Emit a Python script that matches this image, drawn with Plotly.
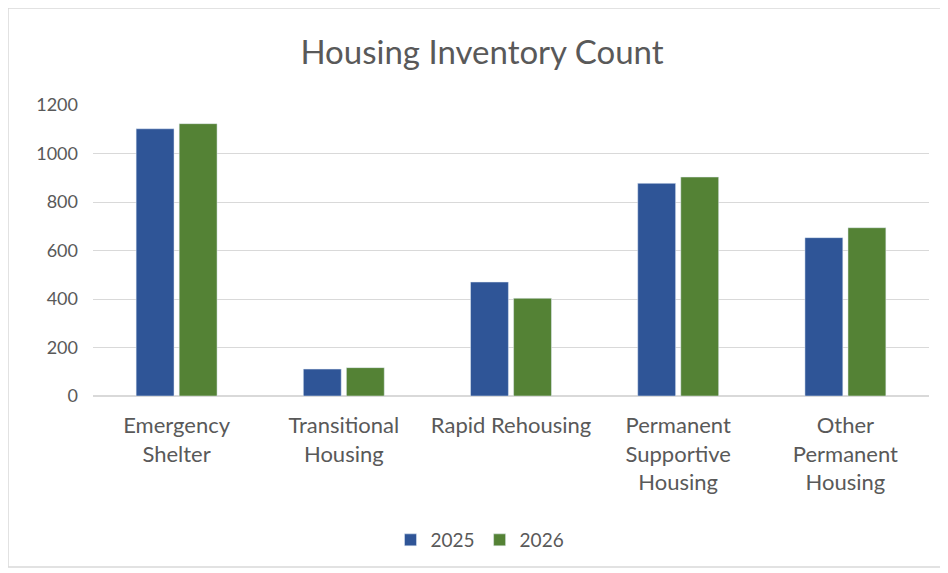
import plotly.graph_objects as go

categories = ["Emergency<br>Shelter", "Transitional<br>Housing", "Rapid Rehousing",
              "Permanent<br>Supportive<br>Housing", "Other<br>Permanent<br>Housing"]
values_2025 = [1102, 111, 470, 877, 653]
values_2026 = [1123, 117, 403, 903, 694]
y_ticks = [0, 200, 400, 600, 800, 1000, 1200]

FONT = "Lato, 'Open Sans', sans-serif"
GREY = "#595959"

W, H = 948, 573
L, R, T, B = 85, 27, 97, 185
PW, PH = W - L - R, H - T - B

fig = go.Figure()
fig.add_trace(go.Bar(name="2025", x=categories, y=values_2025, marker_color="#2F5597"))
fig.add_trace(go.Bar(name="2026", x=categories, y=values_2026, marker_color="#548235"))

fig.update_layout(
    width=W, height=H,
    margin=dict(l=L, r=R, t=T, b=B),
    paper_bgcolor="white", plot_bgcolor="white",
    title=dict(text="Housing Inventory Count", x=(482 - 8) / W, xanchor="center",
               y=1 - 44 / H, yanchor="middle",
               font=dict(family=FONT, size=33, color=GREY)),
    barmode="group", bargap=0.485, bargroupgap=0.12,
    font=dict(family=FONT, color=GREY),
    legend=dict(orientation="h", x=(480 - 8 - L) / PW, xanchor="center",
                y=-(532 - T - PH) / PH, yanchor="middle",
                font=dict(family=FONT, size=19, color=GREY), itemwidth=30,
                traceorder="normal"),
    showlegend=True,
)
fig.update_yaxes(range=[0, 1200], tickvals=y_ticks, showgrid=True, gridcolor="#d9d9d9",
                 gridwidth=1, zeroline=True, zerolinecolor="#d9d9d9", showline=False,
                 tickfont=dict(family=FONT, size=18, color=GREY), ticklabelstandoff=14)
fig.update_xaxes(showline=False, tickfont=dict(family=FONT, size=22, color=GREY),
                 ticklabelstandoff=14)

fig.add_shape(type="rect", xref="paper", yref="paper",
              x0=(0 - L) / PW, x1=(946 - L) / PW,
              y0=-(559 - T - PH) / PH, y1=(T + PH - 0) / PH,
              line=dict(color="#d9d9d9", width=1.5), layer="below")

fig.write_html("out.html")
